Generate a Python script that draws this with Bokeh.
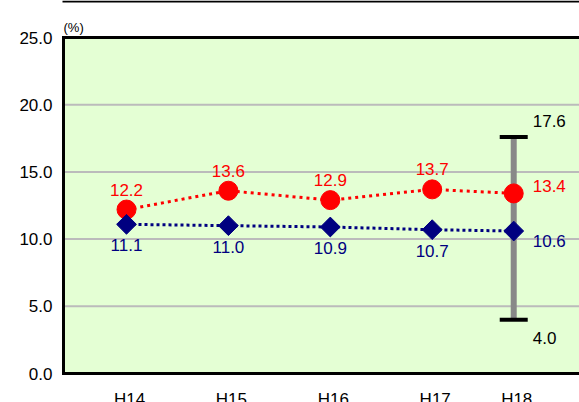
import numpy as np
from bokeh.plotting import figure
from bokeh.models import FixedTicker, NumeralTickFormatter, Range1d
from bokeh.core.properties import value
from bokeh.embed import file_html
from bokeh.resources import INLINE

# ---- data ----
years = ["H14", "H15", "H16", "H17", "H18"]
x_pos = [1, 2, 3, 4, 4.8]
red_vals = [12.2, 13.6, 12.9, 13.7, 13.4]
blue_vals = [11.1, 11.0, 10.9, 10.7, 10.6]
range_high = 17.6
range_low = 4.0
y_ticks = [0, 5, 10, 15, 20, 25]
y_unit_label = "(%)"

# ---- layout constants (pixels) ----
W, H = 579, 402
LEFT = 60            # frame starts here (y tick labels to its left)
AREA_L = 63          # left edge of the green plotting area
AREA_T, AREA_B = 37, 373
FIRST_X_PX = 126     # pixel centre of first category
PX_PER_X = 101.9
Y_MIN, Y_MAX = y_ticks[0], y_ticks[-1]
PX_PER_Y = (AREA_B - AREA_T) / (Y_MAX - Y_MIN)


def x_at(px):
    return x_pos[0] + (px - FIRST_X_PX) / PX_PER_X


def y_at(py):
    return Y_MIN + (AREA_B - py) / PX_PER_Y


x_lo, x_hi = x_at(AREA_L), x_at(W)

FONT = value("Liberation Sans")
FS = "17px"

p = figure(width=W, height=H, output_backend="svg", toolbar_location=None,
           x_range=Range1d(x_at(LEFT), x_at(W)), y_range=Range1d(y_at(H), y_at(0)),
           x_axis_location=None, y_axis_location="left",
           min_border_left=LEFT, min_border_right=0, min_border_top=0, min_border_bottom=0)
p.background_fill_color = "white"
p.border_fill_color = "white"
p.outline_line_color = None
p.grid.visible = False

# left axis: labels only
p.yaxis.ticker = FixedTicker(ticks=y_ticks)
p.yaxis.formatter = NumeralTickFormatter(format="0.0")
p.yaxis.axis_line_color = None
p.yaxis.major_tick_line_color = None
p.yaxis.minor_tick_line_color = None
p.yaxis.major_label_standoff = 2
p.yaxis.major_label_text_font = "Liberation Sans"
p.yaxis.major_label_text_font_size = FS
p.yaxis.major_label_text_color = "black"

# green plotting area
p.quad(left=[x_lo], right=[x_hi], bottom=[Y_MIN], top=[Y_MAX],
       fill_color="#E4FFD4", line_color=None)

# horizontal grid lines
p.segment(x0=[x_lo] * len(y_ticks), y0=y_ticks, x1=[x_hi] * len(y_ticks), y1=y_ticks,
          line_color="#BBBBBB", line_width=2)

# frame borders (left, top, bottom)
p.segment(x0=[x_lo, x_lo, x_lo], y0=[Y_MIN, Y_MAX, Y_MIN],
          x1=[x_lo, x_hi, x_hi], y1=[Y_MAX, Y_MAX, Y_MIN],
          line_color="black", line_width=3, line_cap="square")

# thin rule at the very top
p.segment(x0=[x_at(62)], y0=[y_at(1)], x1=[x_hi], y1=[y_at(1)],
          line_color="black", line_width=2)

# unit label
p.text(x=[x_lo], y=[Y_MAX], text=[y_unit_label], x_offset=0, y_offset=-3,
       text_align="left", text_baseline="bottom",
       text_font=FONT, text_font_size=value("13px"), text_color="black")

# category labels below the area
p.text(x=x_pos, y=[Y_MIN] * len(x_pos), text=years, x_offset=3, y_offset=16,
       text_align="center", text_baseline="top",
       text_font=FONT, text_font_size=value(FS), text_color="black")

# range bar at last year
p.segment(x0=x_pos[-1:], y0=[range_low], x1=x_pos[-1:], y1=[range_high],
          line_color="#888888", line_width=6)
p.scatter(x=x_pos[-1:] * 2, y=[range_high, range_low], marker="dash", size=28,
          line_color="black", line_width=4)

# lines
p.line(x_pos, red_vals, line_color="red", line_width=3, line_dash="3 4")
p.line(x_pos, blue_vals, line_color="#000080", line_width=3, line_dash="3 3")

# markers
p.scatter(x_pos, red_vals, marker="circle", size=19, fill_color="red", line_color="red")
p.scatter(x_pos, blue_vals, marker="square", angle=np.pi / 4, size=14,
          fill_color="#000080", line_color="#000080")

# value labels (first four: above / below)
p.text(x=x_pos[:-1], y=red_vals[:-1], text=[f"{v:.1f}" for v in red_vals[:-1]],
       text_align="center", text_baseline="middle", y_offset=-20,
       text_font=FONT, text_font_size=value(FS), text_color="red")
p.text(x=x_pos[:-1], y=blue_vals[:-1], text=[f"{v:.1f}" for v in blue_vals[:-1]],
       text_align="center", text_baseline="middle", y_offset=21,
       text_font=FONT, text_font_size=value(FS), text_color="#000080")

# last year labels to the right
p.text(x=x_pos[-1:], y=red_vals[-1:], text=[f"{red_vals[-1]:.1f}"],
       text_align="left", text_baseline="middle", x_offset=19, y_offset=-7,
       text_font=FONT, text_font_size=value(FS), text_color="red")
p.text(x=x_pos[-1:], y=blue_vals[-1:], text=[f"{blue_vals[-1]:.1f}"],
       text_align="left", text_baseline="middle", x_offset=19, y_offset=10,
       text_font=FONT, text_font_size=value(FS), text_color="#000080")
p.text(x=x_pos[-1:], y=[range_high], text=[f"{range_high:.1f}"],
       text_align="left", text_baseline="middle", x_offset=19, y_offset=-16,
       text_font=FONT, text_font_size=value(FS), text_color="black")
p.text(x=x_pos[-1:], y=[range_low], text=[f"{range_low:.1f}"],
       text_align="left", text_baseline="middle", x_offset=19, y_offset=18,
       text_font=FONT, text_font_size=value(FS), text_color="black")

open("out.html", "w").write(file_html(p, INLINE))
